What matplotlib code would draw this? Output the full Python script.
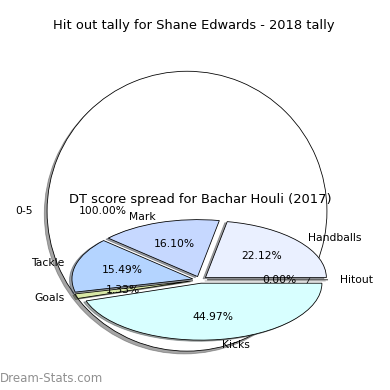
import matplotlib
matplotlib.use("Agg")
import matplotlib.pyplot as plt

# Big pie data
big_labels = ["0-5"]
big_values = [100.0]
big_title = "Hit out tally for Shane Edwards - 2018 tally"

# Small pie data
small_labels = ["Handballs", "Mark", "Tackle", "Goals", "Kicks", "Hitout"]
small_values = [22.12, 16.10, 15.49, 1.33, 44.97, 0.00]
small_colors = ["#eaf0ff", "#c6d8ff", "#b4d4ff", "#d9e8a6", "#d8ffff", "#ffffff"]
small_title = "DT score spread for Bachar Houli (2017)"

DPI = 72
LBL = 10.7
fig = plt.figure(figsize=(390 / DPI, 390 / DPI), dpi=DPI)

ax1 = fig.add_axes([0.031, 0.010, 0.897, 0.897])
ax1.pie(big_values, labels=big_labels, autopct="%.2f%%", colors=["white"],
        shadow=True, wedgeprops=dict(edgecolor="black", linewidth=0.8),
        textprops=dict(fontsize=LBL))
fig.text(0.498, 0.935, big_title, fontsize=13, ha="center", va="center")

ax2 = fig.add_axes([0.125, 0.10, 0.775, 0.365])
ax2.pie(small_values, labels=small_labels, autopct="%.2f%%", colors=small_colors,
        explode=[0.06] * len(small_values), shadow=True,
        wedgeprops=dict(edgecolor="black", linewidth=0.8),
        textprops=dict(fontsize=LBL))
ax2.set_aspect("auto")
ax2.set_title(small_title, fontsize=13)

fig.text(0.0, 0.012, "Dream-Stats.com", color="#909090", fontsize=11.7, ha="left", va="bottom")

fig.savefig("out.png", dpi=DPI)
